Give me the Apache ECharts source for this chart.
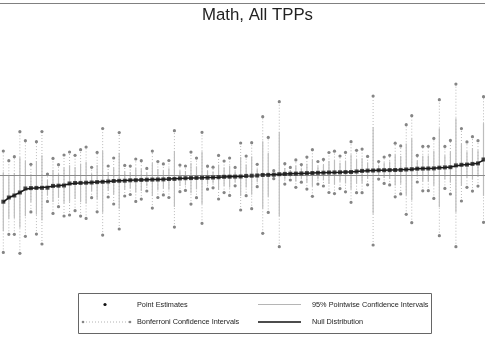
<!DOCTYPE html>
<html>
<head>
<meta charset="utf-8">
<script src="https://cdn.jsdelivr.net/npm/echarts@6/dist/echarts.min.js"></script>
<style>html,body{margin:0;padding:0;background:#fff;}#c{width:485px;height:360px;}</style>
</head>
<body>
<div id="c"></div>
<script>
// Point estimates (sorted), in plot units
const est = [-26.0,-21.8,-19.8,-16.8,-12.8,-12.4,-12.2,-12.1,-12.0,-10.2,-10.0,-9.8,-7.8,-7.3,-7.2,-7.0,-6.8,-6.4,-6.1,-5.8,
  -5.3,-5.1,-5.0,-4.6,-4.5,-4.2,-4.0,-3.9,-3.8,-3.7,-3.3,-3.2,-2.7,-2.5,-2.4,-2.2,-2.1,-2.0,-1.8,-1.5,
  -1.1,-1.0,-0.9,-0.8,-0.2,0.0,0.2,0.7,0.8,1.0,1.5,1.8,2.0,2.1,2.3,2.6,2.7,2.9,3.0,3.2,
  3.3,3.4,3.6,3.7,4.2,4.8,5.1,5.2,5.4,5.5,5.6,5.7,5.8,6.2,6.5,7.0,7.1,7.2,7.3,8.0,
  8.3,8.5,10.3,10.9,11.1,11.8,12.3,16.2];
// Bonferroni interval half-widths
const bonfHalf = [50.7,36.8,38.8,60.8,47.8,23.8,46.2,56.2,13.7,27.5,21.0,30.5,31.5,27.7,33.2,35.7,15.2,29.7,53.3,15.5,
  23.0,48.2,15.3,14.2,21.2,19.2,11.3,28.5,18.0,15.5,18.5,48.2,13.3,12.2,26.0,19.8,45.5,11.5,10.3,21.8,
  15.8,18.7,9.2,33.5,19.8,33.0,11.2,58.3,37.5,4.0,72.5,10.2,6.3,13.7,8.8,16.0,23.3,11.3,13.3,20.0,
  21.2,16.3,19.7,30.3,21.2,21.8,14.2,74.5,8.8,13.2,14.8,26.8,24.0,44.8,53.5,13.3,22.2,22.2,30.0,68.0,
  21.0,26.8,81.3,36.2,22.7,27.2,22.7,62.8];
// 95% pointwise interval half-widths
const pwHalf = [29.4,21.3,22.5,35.3,27.7,13.8,26.8,32.6,7.9,16.0,12.2,17.7,18.3,16.1,19.3,20.7,8.8,17.2,30.9,9.0,
  13.3,28.0,8.9,8.2,12.3,11.1,6.6,16.5,10.4,9.0,10.7,28.0,7.7,7.1,15.1,11.5,26.4,6.7,6.0,12.6,
  9.2,10.8,5.3,19.4,11.5,19.1,6.5,33.8,21.8,2.3,42.1,5.9,3.7,7.9,5.1,9.3,13.5,6.6,7.7,11.6,
  12.3,9.5,11.4,17.6,12.3,12.6,8.2,43.2,5.1,7.7,8.6,15.5,13.9,26.0,31.0,7.7,12.9,12.9,17.4,39.4,
  12.2,15.5,47.2,21.0,13.2,15.8,13.2,36.4];
// Null distribution curve
const nullDist = [-26.5,-22.0,-19.5,-16.8,-13.6,-12.6,-12.2,-11.8,-11.3,-10.5,-10.0,-9.4,-8.3,-7.6,-7.2,-7.0,-6.7,-6.4,-6.1,-5.8,
  -5.4,-5.1,-4.9,-4.6,-4.4,-4.2,-4.0,-3.9,-3.8,-3.6,-3.4,-3.1,-2.8,-2.6,-2.4,-2.2,-2.1,-1.9,-1.7,-1.5,
  -1.2,-1.0,-0.9,-0.7,-0.3,0.0,0.3,0.6,0.8,1.1,1.4,1.7,1.9,2.1,2.3,2.5,2.7,2.9,3.0,3.2,
  3.3,3.4,3.6,3.8,4.2,4.7,5.0,5.2,5.4,5.5,5.6,5.7,5.9,6.2,6.5,6.9,7.1,7.2,7.4,7.9,
  8.3,8.8,9.8,10.7,11.2,11.8,12.5,15.5];
const titleText = 'Math, All TPPs';
const legendLabels = ['Point Estimates','95% Pointwise Confidence Intervals','Bonferroni Confidence Intervals','Null Distribution'];

const chart = echarts.init(document.getElementById('c'), null, {renderer:'canvas'});
const idx = est.map((_, i) => i);
const FONT = 'Liberation Sans, Arial, sans-serif';

function intervalSeries(half, kind) {
  return {
    type: 'custom',
    z: kind === 'bonf' ? 2 : 3,
    silent: true,
    data: idx.map(i => [i, est[i] - half[i], est[i] + half[i]]),
    renderItem: function (params, api) {
      const lo = api.coord([api.value(0), api.value(1)]);
      const hi = api.coord([api.value(0), api.value(2)]);
      if (kind === 'bonf') {
        return {
          type: 'group',
          children: [
            {type:'line', shape:{x1:lo[0], y1:lo[1], x2:hi[0], y2:hi[1]},
             style:{stroke:'#a8a8a8', lineWidth:0.8, lineDash:[1,2]}},
            {type:'circle', shape:{cx:lo[0], cy:lo[1], r:1.6}, style:{fill:'#858585'}},
            {type:'circle', shape:{cx:hi[0], cy:hi[1], r:1.6}, style:{fill:'#858585'}}
          ]
        };
      }
      return {type:'line', shape:{x1:lo[0], y1:lo[1], x2:hi[0], y2:hi[1]},
              style:{stroke:'#bdbdbd', lineWidth:1.2}};
    }
  };
}

const option = {
  animation: false,
  backgroundColor: '#fff',
  grid: {left: 0, right: 0, top: 0, bottom: 0},
  xAxis: {type: 'value', min: -0.6, max: 87.27, show: false},
  yAxis: {type: 'value', min: -184.3, max: 175.7, show: false},
  series: [
    {
      type: 'line', data: [], silent: true, z: 1,
      markLine: {
        silent: true, symbol: 'none', label: {show: false},
        lineStyle: {color: '#8a8a8a', width: 1, type: 'solid'},
        data: [{yAxis: 0}]
      }
    },
    intervalSeries(bonfHalf, 'bonf'),
    intervalSeries(pwHalf, 'pw'),
    {
      type: 'line', z: 4, silent: true, symbol: 'none',
      data: idx.map(i => [i, nullDist[i]]),
      lineStyle: {color: '#1a1a1a', width: 1.5}
    },
    {
      type: 'scatter', z: 5, silent: true, symbol: 'rect', symbolSize: 4,
      data: idx.map(i => [i, est[i]]),
      itemStyle: {color: '#1a1a1a'}
    }
  ],
  graphic: [
    {type:'line', shape:{x1:0, y1:3.5, x2:485, y2:3.5}, style:{stroke:'#808080', lineWidth:1}},
    {type:'text', x:257.5, y:24, style:{text:titleText, font:'16.8px ' + FONT, fill:'#222', textAlign:'center', textVerticalAlign:'bottom'}},
    {type:'rect', shape:{x:78.5, y:293.5, width:353, height:40}, style:{fill:'#fff', stroke:'#666', lineWidth:1}},
    {type:'circle', shape:{cx:105, cy:304.5, r:1.6}, style:{fill:'#111'}},
    {type:'text', x:137, y:304.5, style:{text:legendLabels[0], font:'7.3px ' + FONT, fill:'#222', textVerticalAlign:'middle'}},
    {type:'line', shape:{x1:258, y1:304.5, x2:301, y2:304.5}, style:{stroke:'#b5b5b5', lineWidth:1}},
    {type:'text', x:312, y:304.5, style:{text:legendLabels[1], font:'7.3px ' + FONT, fill:'#222', textVerticalAlign:'middle'}},
    {type:'line', shape:{x1:83, y1:322, x2:130, y2:322}, style:{stroke:'#a0a0a0', lineWidth:0.8, lineDash:[1,2]}},
    {type:'circle', shape:{cx:83, cy:322, r:1.3}, style:{fill:'#858585'}},
    {type:'circle', shape:{cx:130, cy:322, r:1.3}, style:{fill:'#858585'}},
    {type:'text', x:137, y:322, style:{text:legendLabels[2], font:'7.3px ' + FONT, fill:'#222', textVerticalAlign:'middle'}},
    {type:'line', shape:{x1:258, y1:322, x2:301, y2:322}, style:{stroke:'#111', lineWidth:1.3}},
    {type:'text', x:312, y:322, style:{text:legendLabels[3], font:'7.3px ' + FONT, fill:'#222', textVerticalAlign:'middle'}}
  ]
};
chart.setOption(option);
</script>
</body>
</html>
